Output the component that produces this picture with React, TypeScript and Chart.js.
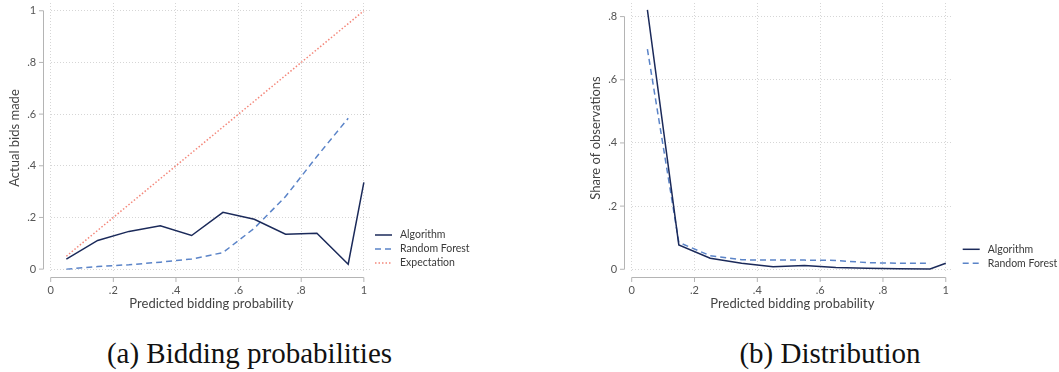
import React, { useEffect, useRef } from "react";
import { Chart, registerables } from "chart.js";

Chart.register(...registerables);

// ---------- data ----------
const binCenters = [0.05, 0.15, 0.25, 0.35, 0.45, 0.55, 0.65, 0.75, 0.85, 0.95];
const binCentersWithOne = [0.05, 0.15, 0.25, 0.35, 0.45, 0.55, 0.65, 0.75, 0.85, 0.95, 1.0];

const leftAlgorithm = [0.039, 0.111, 0.146, 0.168, 0.130, 0.220, 0.193, 0.135, 0.139, 0.019, 0.336];
const leftRandomForest = [0.0, 0.010, 0.017, 0.027, 0.039, 0.064, 0.158, 0.281, 0.436, 0.584];
const expectationX = [0.05, 1.0];
const expectationY = [0.05, 1.0];

const rightAlgorithm = [0.821, 0.077, 0.035, 0.019, 0.008, 0.012, 0.006, 0.003, 0.002, 0.001, 0.019];
const rightRandomForest = [0.697, 0.085, 0.043, 0.030, 0.029, 0.029, 0.028, 0.021, 0.019, 0.019];

const xTickValues = [0, 0.2, 0.4, 0.6, 0.8, 1];
const xTickLabels = ["0", ".2", ".4", ".6", ".8", "1"];
const leftYTickValues = [0, 0.2, 0.4, 0.6, 0.8, 1];
const leftYTickLabels = ["0", ".2", ".4", ".6", ".8", "1"];
const rightYTickValues = [0, 0.2, 0.4, 0.6, 0.8];
const rightYTickLabels = ["0", ".2", ".4", ".6", ".8"];

// ---------- styles ----------
const FONT = "Lato, 'Noto Sans', sans-serif";
const ALGO_COLOR = "#1b2a5a";
const RF_COLOR = "#5b84c8";
const EXP_COLOR = "#f4877a";
const GRID_COLOR = "rgba(0,0,0,0.16)";
const AXIS_COLOR = "#b4b4b4";
const TICK_COLOR = "#555555";
const TITLE_COLOR = "#444444";

const pts = (xs: number[], ys: number[]) => ys.map((y, i) => ({ x: xs[i], y }));

const stataAxes = {
  id: "stataAxes",
  afterDraw(chart: any, _args: any, opts: any) {
    const { ctx, chartArea, scales } = chart;
    const xs = scales.x;
    const ys = scales.y;
    ctx.save();
    ctx.strokeStyle = AXIS_COLOR;
    ctx.lineWidth = 1;
    ctx.setLineDash([]);
    const ax = Math.round(chartArea.left - 8) + 0.5;
    const yt: number[] = opts.yTicks;
    ctx.beginPath();
    ctx.moveTo(ax, ys.getPixelForValue(yt[0]));
    ctx.lineTo(ax, ys.getPixelForValue(yt[yt.length - 1]));
    yt.forEach((v) => {
      const p = ys.getPixelForValue(v);
      ctx.moveTo(ax - 4.5, p);
      ctx.lineTo(ax, p);
    });
    const ay = Math.round(chartArea.bottom + 4) + 0.5;
    const xt: number[] = opts.xTicks;
    ctx.moveTo(xs.getPixelForValue(xt[0]), ay);
    ctx.lineTo(xs.getPixelForValue(xt[xt.length - 1]), ay);
    xt.forEach((v) => {
      const p = xs.getPixelForValue(v);
      ctx.moveTo(p, ay);
      ctx.lineTo(p, ay + 4.5);
    });
    ctx.stroke();
    ctx.restore();
  },
};

const stataLegend = {
  id: "stataLegend",
  afterDraw(chart: any, _args: any, opts: any) {
    const { ctx } = chart;
    ctx.save();
    ctx.font = `10.5px ${FONT}`;
    ctx.textBaseline = "middle";
    ctx.textAlign = "left";
    chart.data.datasets.forEach((ds: any, i: number) => {
      const y = opts.y + i * opts.rowGap;
      ctx.strokeStyle = ds.borderColor;
      ctx.lineWidth = ds.borderWidth;
      ctx.setLineDash(ds.borderDash || []);
      ctx.beginPath();
      ctx.moveTo(opts.x, y);
      ctx.lineTo(opts.x + opts.lineLen, y);
      ctx.stroke();
      ctx.fillStyle = "#3a3a3a";
      ctx.fillText(ds.label, opts.x + opts.lineLen + opts.textGap, y);
    });
    ctx.restore();
  },
};

function makeOptions(cfg: {
  padLeft: number;
  padRight: number;
  yMin: number;
  yMax: number;
  xMax: number;
  yTicks: number[];
  yLabels: string[];
  yTitle: string;
  legendX: number;
  legendY: number;
}) {
  return {
    animation: false,
    responsive: false,
    maintainAspectRatio: false,
    events: [],
    layout: { padding: { left: cfg.padLeft, top: 3, right: cfg.padRight, bottom: 0 } },
    plugins: {
      legend: { display: false },
      tooltip: { enabled: false },
      stataAxes: { xTicks: xTickValues, yTicks: cfg.yTicks },
      stataLegend: { x: cfg.legendX, y: cfg.legendY, rowGap: 14, lineLen: 17, textGap: 8 },
    },
    scales: {
      x: {
        type: "linear",
        min: 0,
        max: cfg.xMax,
        afterBuildTicks: (s: any) => {
          s.ticks = xTickValues.map((v) => ({ value: v }));
        },
        afterFit: (s: any) => {
          s.height = 47;
          s.paddingLeft = 0;
          s.paddingRight = 0;
          s.paddingTop = 0;
          s.paddingBottom = 0;
        },
        ticks: {
          callback: (_v: any, i: number) => xTickLabels[i],
          padding: 11,
          maxRotation: 0,
          autoSkip: false,
          color: TICK_COLOR,
          font: { family: FONT, size: 11 },
        },
        grid: { drawTicks: false, color: GRID_COLOR, lineWidth: 1 },
        border: { display: false, dash: [1, 2] },
        title: {
          display: true,
          text: "Predicted bidding probability",
          color: TITLE_COLOR,
          font: { family: FONT, size: 13 },
          padding: { top: 0, bottom: 8 },
        },
      },
      y: {
        type: "linear",
        min: cfg.yMin,
        max: cfg.yMax,
        afterBuildTicks: (s: any) => {
          s.ticks = cfg.yTicks.map((v) => ({ value: v }));
        },
        afterFit: (s: any) => {
          s.width = 50.7;
          s.paddingLeft = 0;
          s.paddingRight = 0;
          s.paddingTop = 0;
          s.paddingBottom = 0;
        },
        ticks: {
          callback: (_v: any, i: number) => cfg.yLabels[i],
          padding: 14.5,
          autoSkip: false,
          color: TICK_COLOR,
          font: { family: FONT, size: 11 },
        },
        grid: { drawTicks: false, color: GRID_COLOR, lineWidth: 1 },
        border: { display: false, dash: [1, 2] },
        title: {
          display: true,
          text: cfg.yTitle,
          color: TITLE_COLOR,
          font: { family: FONT, size: 13 },
          padding: { top: 7.5, bottom: 0 },
        },
      },
    },
  };
}

const lineStyle = {
  fill: false,
  tension: 0,
  pointRadius: 0,
  borderWidth: 1.5,
};

function LeftChart() {
  const ref = useRef<HTMLCanvasElement>(null);
  useEffect(() => {
    const chart = new Chart(ref.current as HTMLCanvasElement, {
      type: "line",
      data: {
        datasets: [
          { ...lineStyle, label: "Algorithm", data: pts(binCentersWithOne, leftAlgorithm), borderColor: ALGO_COLOR },
          { ...lineStyle, label: "Random Forest", data: pts(binCenters, leftRandomForest), borderColor: RF_COLOR, borderDash: [6, 4] },
          { ...lineStyle, label: "Expectation", data: pts(expectationX, expectationY), borderColor: EXP_COLOR, borderDash: [1.5, 2] },
        ],
      },
      options: makeOptions({
        padLeft: 0,
        padRight: 158,
        yMin: -0.015,
        yMax: 1.03,
        xMax: 1.026,
        yTicks: leftYTickValues,
        yLabels: leftYTickLabels,
        yTitle: "Actual bids made",
        legendX: 375,
        legendY: 235,
      }) as any,
      plugins: [stataAxes, stataLegend],
    });
    return () => chart.destroy();
  }, []);
  return <canvas ref={ref} width={530} height={320} style={{ display: "block", width: 530, height: 320 }} />;
}

function RightChart() {
  const ref = useRef<HTMLCanvasElement>(null);
  useEffect(() => {
    const chart = new Chart(ref.current as HTMLCanvasElement, {
      type: "line",
      data: {
        datasets: [
          { ...lineStyle, label: "Algorithm", data: pts(binCentersWithOne, rightAlgorithm), borderColor: ALGO_COLOR },
          { ...lineStyle, label: "Random Forest", data: pts(binCenters, rightRandomForest), borderColor: RF_COLOR, borderDash: [6, 4] },
        ],
      },
      options: makeOptions({
        padLeft: 51,
        padRight: 106,
        yMin: -0.0118,
        yMax: 0.843,
        xMax: 1.023,
        yTicks: rightYTickValues,
        yLabels: rightYTickLabels,
        yTitle: "Share of observations",
        legendX: 432.7,
        legendY: 249.3,
      }) as any,
      plugins: [stataAxes, stataLegend],
    });
    return () => chart.destroy();
  }, []);
  return <canvas ref={ref} width={529} height={320} style={{ display: "block", width: 529, height: 320 }} />;
}

const captionStyle: React.CSSProperties = {
  position: "absolute",
  top: 338,
  fontFamily: "'Liberation Serif', 'DejaVu Serif', serif",
  fontSize: 29,
  lineHeight: "30px",
  textAlign: "center",
  color: "#111",
  whiteSpace: "nowrap",
};

export default function App() {
  return (
    <div style={{ position: "absolute", left: 0, top: 0, width: 1059, height: 372, background: "#fff", overflow: "hidden" }}>
      <div style={{ position: "absolute", left: 0, top: 0 }}>
        <LeftChart />
      </div>
      <div style={{ position: "absolute", left: 530, top: 0 }}>
        <RightChart />
      </div>
      <div style={{ ...captionStyle, left: 0, width: 499 }}>(a) Bidding probabilities</div>
      <div style={{ ...captionStyle, left: 630, width: 400 }}>(b) Distribution</div>
    </div>
  );
}
